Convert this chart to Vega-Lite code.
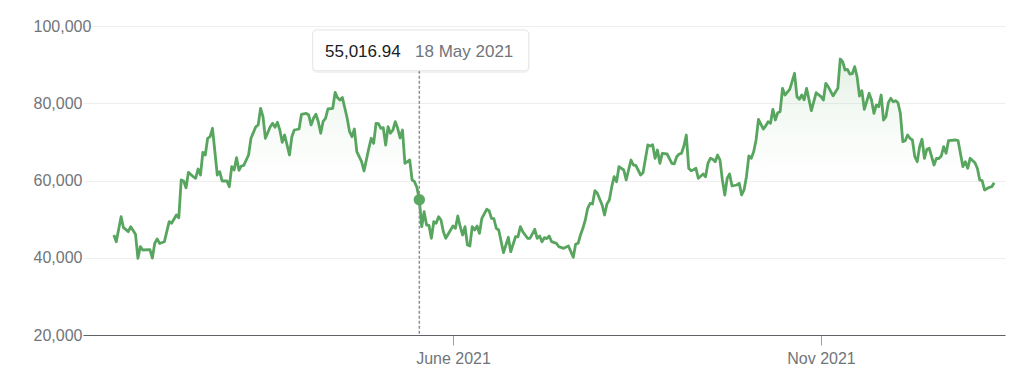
{
  "$schema": "https://vega.github.io/schema/vega-lite/v6.json",
  "width": 922,
  "height": 309,
  "autosize": "none",
  "padding": {"left": 83, "top": 26, "right": 11, "bottom": 41},
  "background": "#ffffff",
  "config": {"view": {"stroke": null}, "font": "Arial"},
  "layer": [
    {
      "data": {
        "name": "prices",
        "format": {"parse": {"date": "utc:'%Y-%m-%d'"}},
        "values": [
          {"date": "2021-01-11", "value": 45890}, {"date": "2021-01-12", "value": 44155}, {"date": "2021-01-14", "value": 50628},
          {"date": "2021-01-15", "value": 47780}, {"date": "2021-01-17", "value": 46744}, {"date": "2021-01-18", "value": 48039},
          {"date": "2021-01-20", "value": 46071}, {"date": "2021-01-21", "value": 39858}, {"date": "2021-01-22", "value": 42861},
          {"date": "2021-01-23", "value": 42007}, {"date": "2021-01-26", "value": 42100}, {"date": "2021-01-27", "value": 39900},
          {"date": "2021-01-28", "value": 43741}, {"date": "2021-01-29", "value": 44854}, {"date": "2021-01-30", "value": 43700},
          {"date": "2021-02-01", "value": 44155}, {"date": "2021-02-03", "value": 49333}, {"date": "2021-02-04", "value": 48919},
          {"date": "2021-02-06", "value": 51068}, {"date": "2021-02-07", "value": 50369}, {"date": "2021-02-08", "value": 60130},
          {"date": "2021-02-09", "value": 59871}, {"date": "2021-02-10", "value": 58136}, {"date": "2021-02-11", "value": 62123},
          {"date": "2021-02-13", "value": 60984}, {"date": "2021-02-14", "value": 60570}, {"date": "2021-02-15", "value": 62977},
          {"date": "2021-02-16", "value": 61424}, {"date": "2021-02-17", "value": 67301}, {"date": "2021-02-18", "value": 66602},
          {"date": "2021-02-19", "value": 70926}, {"date": "2021-02-20", "value": 71340}, {"date": "2021-02-21", "value": 73515},
          {"date": "2021-02-23", "value": 61424}, {"date": "2021-02-24", "value": 62279}, {"date": "2021-02-25", "value": 59871},
          {"date": "2021-02-27", "value": 59900}, {"date": "2021-02-28", "value": 58395}, {"date": "2021-03-01", "value": 63573},
          {"date": "2021-03-02", "value": 62719}, {"date": "2021-03-03", "value": 65903}, {"date": "2021-03-04", "value": 62650},
          {"date": "2021-03-05", "value": 63754}, {"date": "2021-03-06", "value": 63900}, {"date": "2021-03-08", "value": 66602},
          {"date": "2021-03-09", "value": 70926}, {"date": "2021-03-11", "value": 73900}, {"date": "2021-03-12", "value": 74369},
          {"date": "2021-03-13", "value": 78693}, {"date": "2021-03-14", "value": 76518}, {"date": "2021-03-15", "value": 70926},
          {"date": "2021-03-17", "value": 73929}, {"date": "2021-03-18", "value": 74809}, {"date": "2021-03-19", "value": 73800},
          {"date": "2021-03-20", "value": 75068}, {"date": "2021-03-21", "value": 73075}, {"date": "2021-03-22", "value": 69890},
          {"date": "2021-03-23", "value": 71780}, {"date": "2021-03-25", "value": 66602}, {"date": "2021-03-26", "value": 71340},
          {"date": "2021-03-27", "value": 73075}, {"date": "2021-03-29", "value": 73333}, {"date": "2021-03-30", "value": 77139},
          {"date": "2021-04-01", "value": 77398}, {"date": "2021-04-02", "value": 76958}, {"date": "2021-04-03", "value": 74369},
          {"date": "2021-04-04", "value": 76104}, {"date": "2021-04-05", "value": 77139}, {"date": "2021-04-06", "value": 75223},
          {"date": "2021-04-07", "value": 72220}, {"date": "2021-04-08", "value": 75300}, {"date": "2021-04-09", "value": 76104},
          {"date": "2021-04-10", "value": 78511}, {"date": "2021-04-12", "value": 78693}, {"date": "2021-04-13", "value": 82835},
          {"date": "2021-04-14", "value": 81437}, {"date": "2021-04-15", "value": 80842}, {"date": "2021-04-16", "value": 81500},
          {"date": "2021-04-18", "value": 76104}, {"date": "2021-04-19", "value": 72634}, {"date": "2021-04-20", "value": 71340},
          {"date": "2021-04-21", "value": 73333}, {"date": "2021-04-22", "value": 67456}, {"date": "2021-04-24", "value": 64868},
          {"date": "2021-04-25", "value": 62460}, {"date": "2021-04-27", "value": 68337}, {"date": "2021-04-28", "value": 70926},
          {"date": "2021-04-29", "value": 69631}, {"date": "2021-04-30", "value": 74809}, {"date": "2021-05-01", "value": 74700},
          {"date": "2021-05-02", "value": 73515}, {"date": "2021-05-03", "value": 73670}, {"date": "2021-05-04", "value": 69191},
          {"date": "2021-05-05", "value": 73929}, {"date": "2021-05-06", "value": 72220}, {"date": "2021-05-07", "value": 73075},
          {"date": "2021-05-08", "value": 75223}, {"date": "2021-05-09", "value": 73515}, {"date": "2021-05-10", "value": 71000},
          {"date": "2021-05-11", "value": 73075}, {"date": "2021-05-12", "value": 64453}, {"date": "2021-05-14", "value": 65308},
          {"date": "2021-05-15", "value": 60130}, {"date": "2021-05-16", "value": 59689}, {"date": "2021-05-17", "value": 58200},
          {"date": "2021-05-18", "value": 55016.94}, {"date": "2021-05-19", "value": 48039}, {"date": "2021-05-20", "value": 51922},
          {"date": "2021-05-21", "value": 48479}, {"date": "2021-05-22", "value": 48400}, {"date": "2021-05-23", "value": 45036},
          {"date": "2021-05-24", "value": 49333}, {"date": "2021-05-25", "value": 48919}, {"date": "2021-05-26", "value": 50628},
          {"date": "2021-05-27", "value": 49774}, {"date": "2021-05-28", "value": 46744}, {"date": "2021-05-29", "value": 45036},
          {"date": "2021-05-31", "value": 47185}, {"date": "2021-06-01", "value": 48220}, {"date": "2021-06-02", "value": 47625},
          {"date": "2021-06-03", "value": 50809}, {"date": "2021-06-04", "value": 48039}, {"date": "2021-06-05", "value": 45890},
          {"date": "2021-06-06", "value": 48039}, {"date": "2021-06-07", "value": 43301}, {"date": "2021-06-08", "value": 43042},
          {"date": "2021-06-09", "value": 48039}, {"date": "2021-06-10", "value": 47185}, {"date": "2021-06-11", "value": 48220},
          {"date": "2021-06-12", "value": 46330}, {"date": "2021-06-13", "value": 50214}, {"date": "2021-06-15", "value": 52544},
          {"date": "2021-06-16", "value": 52182}, {"date": "2021-06-17", "value": 50214}, {"date": "2021-06-18", "value": 50100},
          {"date": "2021-06-19", "value": 47625}, {"date": "2021-06-20", "value": 47185}, {"date": "2021-06-22", "value": 41307},
          {"date": "2021-06-23", "value": 43301}, {"date": "2021-06-24", "value": 45295}, {"date": "2021-06-25", "value": 41566},
          {"date": "2021-06-27", "value": 45450}, {"date": "2021-06-28", "value": 45400}, {"date": "2021-06-29", "value": 48039},
          {"date": "2021-06-30", "value": 46744}, {"date": "2021-07-02", "value": 45036}, {"date": "2021-07-03", "value": 45000},
          {"date": "2021-07-05", "value": 47366}, {"date": "2021-07-06", "value": 45036}, {"date": "2021-07-07", "value": 45631},
          {"date": "2021-07-08", "value": 44155}, {"date": "2021-07-09", "value": 45200}, {"date": "2021-07-10", "value": 44950},
          {"date": "2021-07-11", "value": 45631}, {"date": "2021-07-12", "value": 44155}, {"date": "2021-07-14", "value": 43741},
          {"date": "2021-07-15", "value": 42861}, {"date": "2021-07-17", "value": 42447}, {"date": "2021-07-19", "value": 43042},
          {"date": "2021-07-21", "value": 40117}, {"date": "2021-07-22", "value": 43560}, {"date": "2021-07-23", "value": 43741},
          {"date": "2021-07-24", "value": 45890}, {"date": "2021-07-25", "value": 47625}, {"date": "2021-07-26", "value": 49774},
          {"date": "2021-07-27", "value": 52803}, {"date": "2021-07-28", "value": 54097}, {"date": "2021-07-29", "value": 53916},
          {"date": "2021-07-30", "value": 57359}, {"date": "2021-07-31", "value": 56686}, {"date": "2021-08-02", "value": 53657},
          {"date": "2021-08-03", "value": 51068}, {"date": "2021-08-04", "value": 53916}, {"date": "2021-08-05", "value": 54952},
          {"date": "2021-08-06", "value": 58395}, {"date": "2021-08-07", "value": 60984}, {"date": "2021-08-08", "value": 59689},
          {"date": "2021-08-09", "value": 63573}, {"date": "2021-08-11", "value": 62719}, {"date": "2021-08-12", "value": 60130},
          {"date": "2021-08-14", "value": 65308}, {"date": "2021-08-15", "value": 64013}, {"date": "2021-08-16", "value": 63900},
          {"date": "2021-08-18", "value": 61424}, {"date": "2021-08-19", "value": 62019}, {"date": "2021-08-21", "value": 69191},
          {"date": "2021-08-22", "value": 68932}, {"date": "2021-08-23", "value": 69250}, {"date": "2021-08-24", "value": 65748},
          {"date": "2021-08-25", "value": 67897}, {"date": "2021-08-26", "value": 64453}, {"date": "2021-08-27", "value": 67042},
          {"date": "2021-08-29", "value": 66861}, {"date": "2021-08-31", "value": 64453}, {"date": "2021-09-01", "value": 64300},
          {"date": "2021-09-02", "value": 66162}, {"date": "2021-09-03", "value": 66861}, {"date": "2021-09-04", "value": 67042},
          {"date": "2021-09-05", "value": 68932}, {"date": "2021-09-06", "value": 71780}, {"date": "2021-09-07", "value": 63158},
          {"date": "2021-09-08", "value": 62537}, {"date": "2021-09-09", "value": 62800}, {"date": "2021-09-10", "value": 63158},
          {"date": "2021-09-11", "value": 60570}, {"date": "2021-09-13", "value": 61683}, {"date": "2021-09-14", "value": 60984},
          {"date": "2021-09-15", "value": 64453}, {"date": "2021-09-16", "value": 65748}, {"date": "2021-09-17", "value": 65489},
          {"date": "2021-09-18", "value": 64868}, {"date": "2021-09-19", "value": 66602}, {"date": "2021-09-20", "value": 65308},
          {"date": "2021-09-21", "value": 60130}, {"date": "2021-09-22", "value": 56246}, {"date": "2021-09-23", "value": 60570},
          {"date": "2021-09-24", "value": 61683}, {"date": "2021-09-25", "value": 58576}, {"date": "2021-09-27", "value": 58835},
          {"date": "2021-09-28", "value": 59275}, {"date": "2021-09-29", "value": 56246}, {"date": "2021-09-30", "value": 57541},
          {"date": "2021-10-01", "value": 60984}, {"date": "2021-10-02", "value": 66343}, {"date": "2021-10-03", "value": 65748},
          {"date": "2021-10-04", "value": 67456}, {"date": "2021-10-05", "value": 70486}, {"date": "2021-10-06", "value": 75844},
          {"date": "2021-10-08", "value": 73333}, {"date": "2021-10-09", "value": 74110}, {"date": "2021-10-10", "value": 75223},
          {"date": "2021-10-11", "value": 74809}, {"date": "2021-10-12", "value": 78434}, {"date": "2021-10-13", "value": 75664},
          {"date": "2021-10-14", "value": 77553}, {"date": "2021-10-15", "value": 77812}, {"date": "2021-10-16", "value": 83871},
          {"date": "2021-10-17", "value": 82136}, {"date": "2021-10-19", "value": 83612}, {"date": "2021-10-21", "value": 87754},
          {"date": "2021-10-22", "value": 81696}, {"date": "2021-10-23", "value": 81023}, {"date": "2021-10-24", "value": 82136},
          {"date": "2021-10-25", "value": 80900}, {"date": "2021-10-26", "value": 83871}, {"date": "2021-10-28", "value": 78071},
          {"date": "2021-10-30", "value": 82731}, {"date": "2021-11-01", "value": 81696}, {"date": "2021-11-02", "value": 80842},
          {"date": "2021-11-03", "value": 85166}, {"date": "2021-11-04", "value": 84285}, {"date": "2021-11-06", "value": 81900},
          {"date": "2021-11-07", "value": 82900}, {"date": "2021-11-08", "value": 83871}, {"date": "2021-11-09", "value": 91450},
          {"date": "2021-11-10", "value": 90759}, {"date": "2021-11-11", "value": 88609}, {"date": "2021-11-12", "value": 88790},
          {"date": "2021-11-13", "value": 87573}, {"date": "2021-11-14", "value": 87650}, {"date": "2021-11-15", "value": 89463},
          {"date": "2021-11-16", "value": 86874}, {"date": "2021-11-17", "value": 81877}, {"date": "2021-11-18", "value": 83249},
          {"date": "2021-11-19", "value": 78434}, {"date": "2021-11-20", "value": 80401}, {"date": "2021-11-21", "value": 82576},
          {"date": "2021-11-22", "value": 80842}, {"date": "2021-11-23", "value": 77398}, {"date": "2021-11-24", "value": 79547},
          {"date": "2021-11-25", "value": 79107}, {"date": "2021-11-26", "value": 82136}, {"date": "2021-11-27", "value": 75664},
          {"date": "2021-11-28", "value": 76518}, {"date": "2021-11-29", "value": 80142}, {"date": "2021-11-30", "value": 81282},
          {"date": "2021-12-01", "value": 80401}, {"date": "2021-12-02", "value": 80660}, {"date": "2021-12-03", "value": 80142},
          {"date": "2021-12-04", "value": 77398}, {"date": "2021-12-05", "value": 70046}, {"date": "2021-12-06", "value": 70305},
          {"date": "2021-12-07", "value": 71780}, {"date": "2021-12-08", "value": 70926}, {"date": "2021-12-09", "value": 70486},
          {"date": "2021-12-10", "value": 66162}, {"date": "2021-12-11", "value": 64868}, {"date": "2021-12-12", "value": 68751},
          {"date": "2021-12-13", "value": 70667}, {"date": "2021-12-14", "value": 65748}, {"date": "2021-12-15", "value": 68077},
          {"date": "2021-12-16", "value": 68337}, {"date": "2021-12-18", "value": 64013}, {"date": "2021-12-19", "value": 65748},
          {"date": "2021-12-20", "value": 65700}, {"date": "2021-12-21", "value": 66343}, {"date": "2021-12-22", "value": 68751},
          {"date": "2021-12-23", "value": 67042}, {"date": "2021-12-24", "value": 70305}, {"date": "2021-12-27", "value": 70486},
          {"date": "2021-12-28", "value": 70305}, {"date": "2021-12-30", "value": 63573}, {"date": "2021-12-31", "value": 64868},
          {"date": "2022-01-01", "value": 63158}, {"date": "2022-01-02", "value": 65748}, {"date": "2022-01-04", "value": 64609},
          {"date": "2022-01-05", "value": 63158}, {"date": "2022-01-06", "value": 60130}, {"date": "2022-01-07", "value": 59948},
          {"date": "2022-01-08", "value": 57541}, {"date": "2022-01-10", "value": 58240}, {"date": "2022-01-11", "value": 58395},
          {"date": "2022-01-12", "value": 59430}
        ]
      },
      "layer": [
        {
          "mark": {
            "type": "area",
            "color": {
              "gradient": "linear", "x1": 0, "y1": 0, "x2": 0, "y2": 1,
              "stops": [
                {"offset": 0, "color": "rgba(87,165,94,0.17)"},
                {"offset": 0.55, "color": "rgba(255,255,255,0)"}
              ]
            }
          },
          "encoding": {
            "x": {
              "field": "date", "type": "temporal",
              "scale": {
                "type": "utc",
                "domain": [
                  {"year": 2020, "month": 12, "date": 29, "hours": 4, "utc": true},
                  {"year": 2022, "month": 1, "date": 16, "hours": 12, "utc": true}
                ]
              },
              "axis": {
                "title": null,
                "grid": false,
                "values": [
                  {"year": 2021, "month": 6, "date": 1, "utc": true},
                  {"year": 2021, "month": 11, "date": 1, "utc": true}
                ],
                "labelExpr": "utcFormat(datum.value, '%m') == '06' ? 'June 2021' : utcFormat(datum.value, '%b %Y')",
                "domainColor": "#5f6368",
                "domainWidth": 1,
                "tickColor": "#9aa0a6",
                "tickSize": 10,
                "tickWidth": 1,
                "labelFont": "Arial",
                "labelFontSize": 16,
                "labelColor": "#70757a",
                "labelPadding": 5
              }
            },
            "y": {
              "field": "value", "type": "quantitative",
              "scale": {"domain": [20000, 100000], "nice": false, "zero": false},
              "axis": {
                "title": null,
                "values": [20000, 40000, 60000, 80000, 100000],
                "format": ",d",
                "grid": true,
                "gridColor": "#eeeeee",
                "gridWidth": 1,
                "domain": false,
                "ticks": false,
                "tickSize": 0,
                "labelAlign": "left",
                "labelBaseline": "middle",
                "labelPadding": 50,
                "labelFont": "Arial",
                "labelFontSize": 16,
                "labelColor": "#70757a"
              }
            },
            "y2": {"datum": 20000}
          }
        },
        {
          "mark": {"type": "line", "color": "#57a55e", "strokeWidth": 2.8, "strokeJoin": "round"},
          "encoding": {
            "x": {"field": "date", "type": "temporal"},
            "y": {"field": "value", "type": "quantitative"}
          }
        }
      ]
    },
    {
      "data": {"values": [{"label": "tooltip"}]},
      "layer": [
        {
          "mark": {"type": "rule", "color": "#8a8f94", "strokeWidth": 1.5, "strokeDash": [3, 2]},
          "encoding": {
            "x": {"datum": {"year": 2021, "month": 5, "date": 18, "utc": true}, "type": "temporal"},
            "y": {"datum": 88427, "type": "quantitative"},
            "y2": {"datum": 20000}
          }
        },
        {
          "mark": {"type": "point", "filled": true, "color": "#5aa862", "size": 130, "opacity": 1},
          "encoding": {
            "x": {"datum": {"year": 2021, "month": 5, "date": 18, "utc": true}, "type": "temporal"},
            "y": {"datum": 55016.94, "type": "quantitative"}
          }
        },
        {
          "mark": {"type": "rect", "fill": "#000000", "fillOpacity": 0.05, "strokeWidth": 0, "cornerRadius": 5},
          "encoding": {
            "x": {"datum": {"year": 2021, "month": 4, "date": 3, "hours": 8, "utc": true}, "type": "temporal"},
            "x2": {"datum": {"year": 2021, "month": 7, "date": 2, "hours": 20, "utc": true}},
            "y": {"datum": 99100, "type": "quantitative"},
            "y2": {"datum": 87800}
          }
        },
        {
          "mark": {"type": "rect", "fill": "#ffffff", "stroke": "#e6e6e6", "strokeWidth": 1, "cornerRadius": 4},
          "encoding": {
            "x": {"datum": {"year": 2021, "month": 4, "date": 3, "hours": 16, "utc": true}, "type": "temporal"},
            "x2": {"datum": {"year": 2021, "month": 7, "date": 2, "hours": 11, "utc": true}},
            "y": {"datum": 98965, "type": "quantitative"},
            "y2": {"datum": 88427}
          }
        },
        {
          "mark": {"type": "text", "align": "left", "baseline": "alphabetic", "font": "Arial", "fontSize": 17, "fill": "#202124"},
          "encoding": {
            "x": {"datum": {"year": 2021, "month": 4, "date": 8, "hours": 19, "utc": true}, "type": "temporal"},
            "y": {"datum": 92052, "type": "quantitative"},
            "text": {"value": "55,016.94"}
          }
        },
        {
          "mark": {"type": "text", "align": "left", "baseline": "alphabetic", "font": "Arial", "fontSize": 17, "fill": "#70757a"},
          "encoding": {
            "x": {"datum": {"year": 2021, "month": 5, "date": 16, "hours": 5, "utc": true}, "type": "temporal"},
            "y": {"datum": 92052, "type": "quantitative"},
            "text": {"value": "18 May 2021"}
          }
        }
      ]
    }
  ]
}
